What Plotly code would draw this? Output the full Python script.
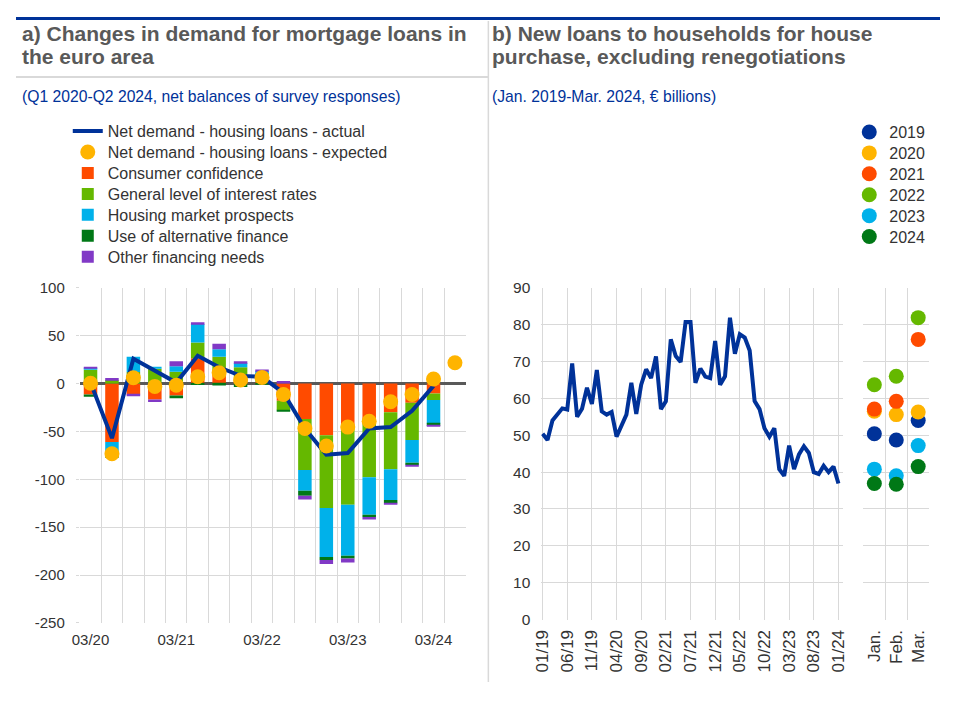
import plotly.graph_objects as go

# ---------------- Panel a data ----------------
quarters = ["Q1 2020", "Q2 2020", "Q3 2020", "Q4 2020", "Q1 2021", "Q2 2021",
            "Q3 2021", "Q4 2021", "Q1 2022", "Q2 2022", "Q3 2022", "Q4 2022",
            "Q1 2023", "Q2 2023", "Q3 2023", "Q4 2023", "Q1 2024", "Q2 2024"]
quarter_tick_labels = ["03/20", "", "", "", "03/21", "", "", "", "03/22", "", "", "",
                       "03/23", "", "", "", "03/24", ""]

consumer_confidence = [-11.5, -61, -11.5, -16.6, -12.6, 26.5, 12, 3, 2, -18,
                       -37, -54, -45, -37, -30, -20, -10.5, None]
interest_rates = [14.5, 3.7, 12, 15.5, 12.2, 16.3, 16, 14, 9, -10,
                  -53.4, -76, -81.7, -61, -59.4, -39, -6.8, None]
housing_market = [1, -13.6, 16, 1, 5.8, 19.4, 7.8, 4.5, 2, 0,
                  -21.7, -51.2, -53.3, -39, -32.2, -23.8, -24.7, None]
alternative_finance = [-2.4, -3, 0, 0, -2.7, -1.5, -2, -3.7, -1, -1.4,
                       -5.1, -3.1, -2.7, -2.4, -3.4, -2.4, -2, None]
other_needs = [1.3, 2, -1.7, -2.7, 5.4, 1.7, 5.8, 1.7, 1.6, 2.7,
               -3.8, -4.1, -4.1, -2.7, -1.7, -1.4, -1, None]
net_demand_actual = [1, -57, 26, 14, 1, 29, 17, 8, 7, -9.8,
                     -47, -74.3, -72.6, -47, -45.5, -28.5, -2.4, None]
net_demand_expected = [0.3, -73.3, 6.1, -3, -1.7, 7.1, 11.2, 3.7, 6.4, -11.5,
                       -47, -65.2, -45.5, -39.4, -19, -11.5, 4.8, 21.7]
y_ticks_a = [100, 50, 0, -50, -100, -150, -200, -250]
y_tick_text_a = ["100", "50", "0", "-50", "-100", "-150", "-200", "-250"]

# ---------------- Panel b data ----------------
months = ["%02d/%02d" % (m, y) for y in range(19, 25) for m in range(1, 13)][:63]
new_loans = [50.4, 48.7, 54.0, 55.6, 57.3, 57.0, 69.5, 55.0, 57.2, 62.9, 58.5, 67.7,   # 2019
             56.5, 55.6, 56.3, 49.6, 52.7, 55.6, 64.2, 55.8, 63.7, 67.9, 65.5, 71.4,   # 2020
             57.1, 59.2, 76.0, 71.5, 69.9, 80.7, 80.7, 64.2, 68.1, 65.9, 65.5, 75.6,   # 2021
             63.7, 66.0, 81.9, 72.1, 77.4, 76.5, 73.0, 59.3, 57.1, 51.9, 49.6, 51.9,   # 2022
             40.8, 39.0, 47.2, 40.8, 44.8, 47.0, 45.2, 40.0, 39.5, 41.7, 40.0, 41.5,   # 2023
             36.9, 36.7, 41.5]                                                          # 2024
line_end = 61  # line drawn Jan 2019 - Jan 2024
month_ticks = ["01/19", "06/19", "11/19", "04/20", "09/20", "02/21", "07/21",
               "12/21", "05/22", "10/22", "03/23", "08/23", "01/24"]
dot_months = ["Jan.", "Feb.", "Mar."]
years = [2019, 2020, 2021, 2022, 2023, 2024]
year_colors = ["#003299", "#FFB400", "#FF4B00", "#65B800", "#00B1EA", "#007816"]

# ---------------- Styles ----------------
NAVY = "#003299"
GRID = "#d9d9d9"
FONT = "Arial, Liberation Sans, sans-serif"
PAGE_W, PAGE_H = 953, 701
OFF = 8                      # default page margin of the html body
W, H = PAGE_W - 2 * OFF, PAGE_H - 2 * OFF


def px(x):
    return (x - OFF) / W


def py(y):
    return 1 - (y - OFF) / H


def legend_box(x, y):
    return dict(x=px(x), y=py(y), xanchor="left", yanchor="middle",
                font=dict(size=16, color="#333333"), bgcolor="rgba(0,0,0,0)",
                itemwidth=30, borderwidth=0)


fig = go.Figure()
legends = {}
leg_n = [0]


def next_legend(x, y):
    leg_n[0] += 1
    key = "legend" if leg_n[0] == 1 else "legend%d" % leg_n[0]
    legends[key] = legend_box(x, y)
    return key


LEFT_LEG_X, LEFT_LEG_Y0, LEG_DY = 60.5, 125, 21.5
RIGHT_LEG_X, RIGHT_LEG_Y0 = 853, 126

fig.add_trace(go.Scatter(x=quarters, y=net_demand_actual, mode="lines",
                         name="Net demand - housing loans - actual",
                         line=dict(color=NAVY, width=4),
                         xaxis="x", yaxis="y", legend=next_legend(LEFT_LEG_X, LEFT_LEG_Y0)))
fig.add_trace(go.Scatter(x=quarters, y=net_demand_expected, mode="markers",
                         name="Net demand - housing loans - expected",
                         marker=dict(color="#FFB400", size=15),
                         xaxis="x", yaxis="y",
                         legend=next_legend(LEFT_LEG_X, LEFT_LEG_Y0 + LEG_DY)))

bar_series = [("Consumer confidence", consumer_confidence, "#FF4B00"),
              ("General level of interest rates", interest_rates, "#65B800"),
              ("Housing market prospects", housing_market, "#00B1EA"),
              ("Use of alternative finance", alternative_finance, "#007816"),
              ("Other financing needs", other_needs, "#8139C6")]
for i, (name, vals, col) in enumerate(bar_series):
    fig.add_trace(go.Bar(x=quarters, y=vals, name=name,
                         marker=dict(color=col, line=dict(width=0)),
                         xaxis="x", yaxis="y",
                         legend=next_legend(LEFT_LEG_X, LEFT_LEG_Y0 + LEG_DY * (2 + i))))

fig.add_trace(go.Scatter(x=months[:line_end], y=new_loans[:line_end], mode="lines",
                         line=dict(color=NAVY, width=4), showlegend=False,
                         xaxis="x2", yaxis="y2"))

for i, (yr, col) in enumerate(zip(years, year_colors)):
    vals = new_loans[12 * i:12 * i + 3]
    fig.add_trace(go.Scatter(x=dot_months, y=vals, mode="markers", name=str(yr),
                             marker=dict(color=col, size=15),
                             xaxis="x3", yaxis="y3",
                             legend=next_legend(RIGHT_LEG_X, RIGHT_LEG_Y0 + 21.45 * i)))

ydom = [py(629.3), py(285.7)]
ydom_b = [py(625.9), py(285.7)]

fig.update_layout(
    width=W, height=H,
    margin=dict(l=0, r=0, t=0, b=0),
    paper_bgcolor="white", plot_bgcolor="white",
    font=dict(family=FONT, size=15, color="#333333"),
    barmode="relative", bargap=0.37,
    showlegend=True,
    xaxis=dict(domain=[px(72.7), px(464)], type="category", anchor="y",
               tickmode="array", tickvals=quarters, ticktext=quarter_tick_labels,
               tickson="boundaries", showgrid=True, gridcolor=GRID, gridwidth=1,
               ticks="", tickangle=0, range=[-0.5, 17.5], ticklabelstandoff=6,
               tickfont=dict(size=15), zeroline=False, showline=False),
    yaxis=dict(domain=ydom, anchor="x", range=[-250, 100], tickmode="array",
               tickvals=y_ticks_a, ticktext=y_tick_text_a, showgrid=True,
               gridcolor=GRID, zeroline=True, zerolinecolor="#595959", zerolinewidth=2.5,
               ticks="outside", ticklen=3, tickcolor=GRID, ticklabelstandoff=8,
               tickfont=dict(size=15), showline=False),
    xaxis2=dict(domain=[px(540.7), px(846.7)], type="category", anchor="y2",
                categoryorder="array", categoryarray=months,
                tickmode="array", tickvals=month_ticks, ticktext=month_ticks,
                range=[-0.26, 60.94], showgrid=True, gridcolor=GRID, ticks="",
                tickangle=-90, ticklabelstandoff=6, tickfont=dict(size=17),
                zeroline=False, showline=False),
    yaxis2=dict(domain=ydom_b, anchor="x2", range=[0, 90], dtick=10, tick0=0,
                showgrid=True, gridcolor=GRID, zeroline=False, ticks="",
                ticklabelstandoff=10, tickfont=dict(size=15.5), showline=False),
    xaxis3=dict(domain=[px(867.3), px(934)], type="category", anchor="y3",
                categoryorder="array", categoryarray=dot_months,
                tickson="boundaries", showgrid=True, gridcolor=GRID, ticks="",
                tickangle=-90, range=[-0.5, 2.5], ticklabelstandoff=6,
                tickfont=dict(size=17), zeroline=False, showline=False),
    yaxis3=dict(domain=ydom_b, anchor="x3", range=[0, 90], dtick=10, tick0=0,
                showgrid=True, gridcolor=GRID, zeroline=False, showticklabels=False,
                ticks="", showline=False),
    shapes=[
        dict(type="rect", xref="paper", yref="paper", x0=0, x1=1, y0=py(OFF + 3), y1=1,
             fillcolor=NAVY, line=dict(width=0)),
        dict(type="line", xref="paper", yref="paper", x0=px(487), x1=px(487),
             y0=py(690), y1=py(OFF + 4), line=dict(color=GRID, width=1.5)),
        dict(type="line", xref="paper", yref="paper", x0=0, x1=px(487),
             y0=py(69.5), y1=py(69.5), line=dict(color=GRID, width=2)),
    ],
    annotations=[
        dict(text="<b>a) Changes in demand for mortgage loans in</b>", x=px(12), y=py(25),
             xref="paper", yref="paper", xanchor="left", yanchor="middle", showarrow=False,
             font=dict(size=21, color="#595959")),
        dict(text="<b>the euro area</b>", x=px(12), y=py(48),
             xref="paper", yref="paper", xanchor="left", yanchor="middle", showarrow=False,
             font=dict(size=21, color="#595959")),
        dict(text="<b>b) New loans to households for house</b>", x=px(489), y=py(25),
             xref="paper", yref="paper", xanchor="left", yanchor="middle", showarrow=False,
             font=dict(size=21, color="#595959")),
        dict(text="<b>purchase, excluding renegotiations</b>", x=px(489), y=py(48),
             xref="paper", yref="paper", xanchor="left", yanchor="middle", showarrow=False,
             font=dict(size=21, color="#595959")),
        dict(text="(Q1 2020-Q2 2024, net balances of survey responses)", x=px(12), y=py(90),
             xref="paper", yref="paper", xanchor="left", yanchor="middle", showarrow=False,
             font=dict(size=15.7, color=NAVY)),
        dict(text="(Jan. 2019-Mar. 2024, € billions)", x=px(489), y=py(90),
             xref="paper", yref="paper", xanchor="left", yanchor="middle", showarrow=False,
             font=dict(size=15.7, color=NAVY)),
    ],
)
fig.update_layout(**legends)

fig.write_html("out.html", config={"displayModeBar": False})
